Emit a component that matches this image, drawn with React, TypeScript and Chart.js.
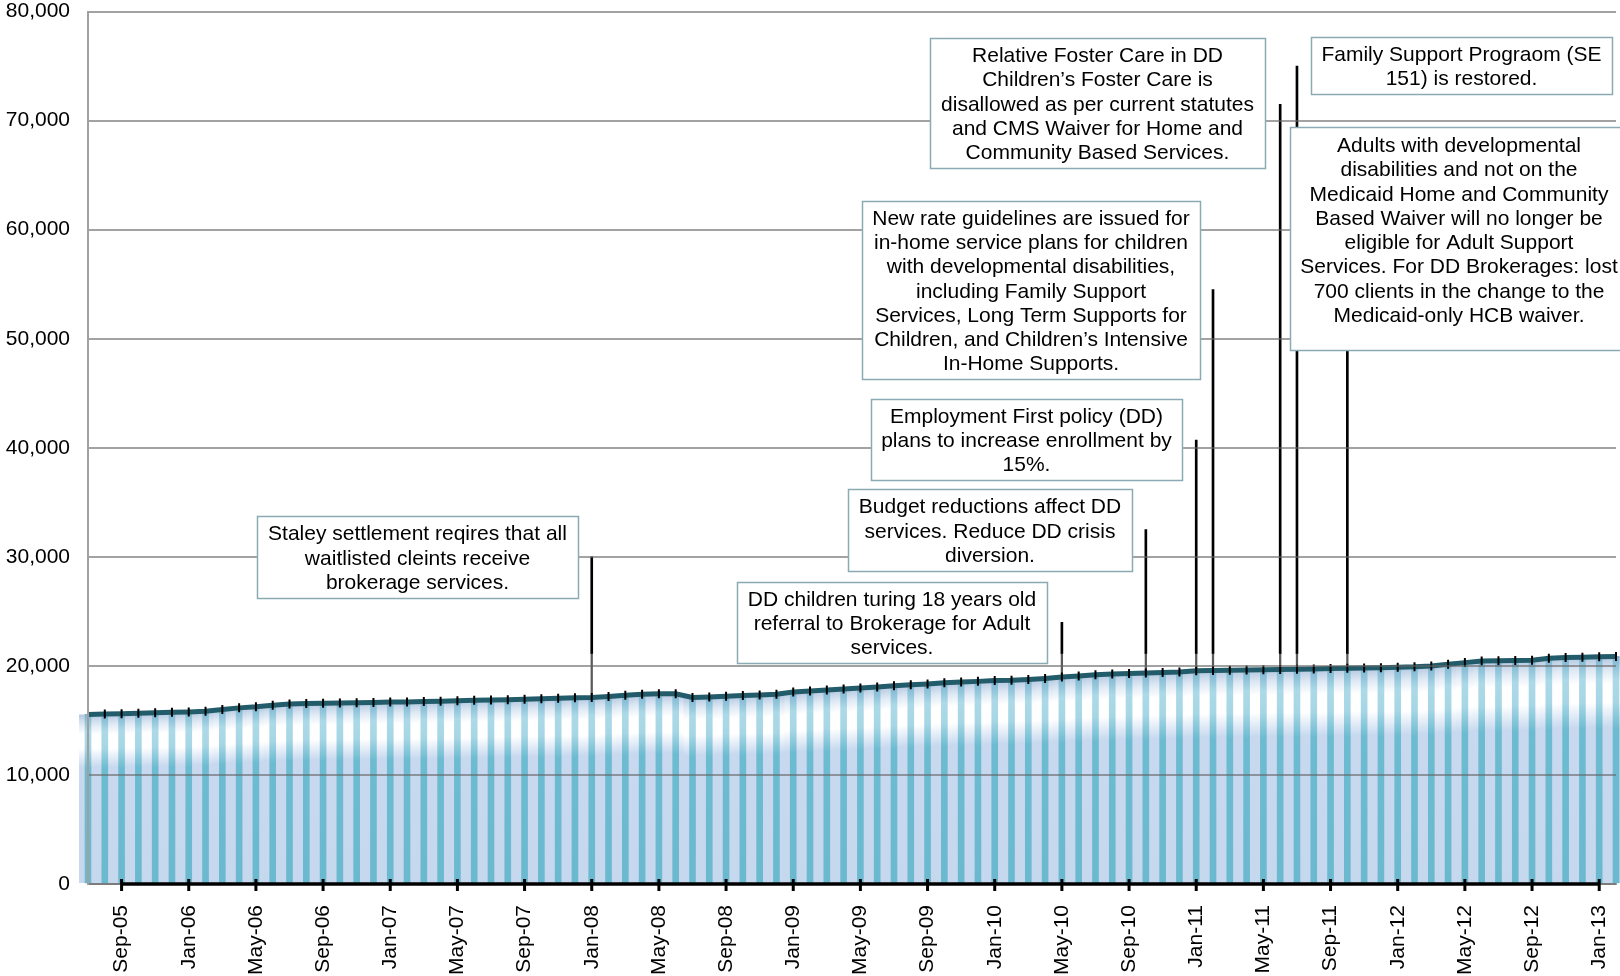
import { useEffect, useRef } from 'react';
import { Chart, registerables } from 'chart.js';

Chart.register(...registerables);

const categories = [
  'Jul-05', 'Aug-05', 'Sep-05', 'Oct-05', 'Nov-05', 'Dec-05',
  'Jan-06', 'Feb-06', 'Mar-06', 'Apr-06', 'May-06', 'Jun-06', 'Jul-06', 'Aug-06', 'Sep-06', 'Oct-06', 'Nov-06', 'Dec-06',
  'Jan-07', 'Feb-07', 'Mar-07', 'Apr-07', 'May-07', 'Jun-07', 'Jul-07', 'Aug-07', 'Sep-07', 'Oct-07', 'Nov-07', 'Dec-07',
  'Jan-08', 'Feb-08', 'Mar-08', 'Apr-08', 'May-08', 'Jun-08', 'Jul-08', 'Aug-08', 'Sep-08', 'Oct-08', 'Nov-08', 'Dec-08',
  'Jan-09', 'Feb-09', 'Mar-09', 'Apr-09', 'May-09', 'Jun-09', 'Jul-09', 'Aug-09', 'Sep-09', 'Oct-09', 'Nov-09', 'Dec-09',
  'Jan-10', 'Feb-10', 'Mar-10', 'Apr-10', 'May-10', 'Jun-10', 'Jul-10', 'Aug-10', 'Sep-10', 'Oct-10', 'Nov-10', 'Dec-10',
  'Jan-11', 'Feb-11', 'Mar-11', 'Apr-11', 'May-11', 'Jun-11', 'Jul-11', 'Aug-11', 'Sep-11', 'Oct-11', 'Nov-11', 'Dec-11',
  'Jan-12', 'Feb-12', 'Mar-12', 'Apr-12', 'May-12', 'Jun-12', 'Jul-12', 'Aug-12', 'Sep-12', 'Oct-12', 'Nov-12', 'Dec-12',
  'Jan-13', 'Feb-13',
];

const clients = [
  15550, 15580, 15620, 15660, 15700, 15740,
  15780, 15850, 16000, 16150, 16250, 16400, 16500, 16550, 16580, 16600, 16620, 16650,
  16680, 16700, 16730, 16760, 16800, 16840, 16870, 16900, 16950, 16990, 17030, 17070,
  17100, 17200, 17300, 17400, 17450, 17450, 17100, 17150, 17220, 17280, 17340, 17400,
  17600, 17700, 17780, 17870, 17970, 18070, 18170, 18270, 18350, 18450, 18520, 18580,
  18650, 18680, 18750, 18850, 18980, 19080, 19180, 19250, 19300, 19350, 19400, 19450,
  19550, 19580, 19600, 19630, 19650, 19680, 19700, 19720, 19750, 19780, 19810, 19840,
  19880, 19920, 20000, 20150, 20300, 20450, 20480, 20500, 20520, 20700, 20780, 20800,
  20830, 20870,
];

const yTickValues = [0, 10000, 20000, 30000, 40000, 50000, 60000, 70000, 80000];

// Events: month of the change and the value where its leader line ends
const eventMonths = ['Jan-08', 'May-10', 'Oct-10', 'Jan-11', 'Feb-11', 'Jun-11', 'Jul-11', 'Oct-11'];
const leaderTops = [30000, 24000, 32500, 40700, 54500, 71500, 75000, 52000];
const leaderSplit = 21150;

const noteTexts = [
  ['Staley settlement reqires that all', 'waitlisted cleints receive', 'brokerage services.'],
  ['DD children turing 18 years old', 'referral to Brokerage for Adult', 'services.'],
  ['Budget reductions affect DD', 'services. Reduce DD crisis', 'diversion.'],
  ['Employment First policy (DD)', 'plans to increase enrollment by', '15%.'],
  [
    'New rate guidelines are issued for',
    'in-home service plans for children',
    'with developmental disabilities,',
    'including Family Support',
    'Services, Long Term Supports for',
    'Children, and Children\u2019s Intensive',
    'In-Home Supports.',
  ],
  [
    'Relative Foster Care in DD',
    'Children\u2019s Foster Care is',
    'disallowed as per current statutes',
    'and CMS Waiver for Home and',
    'Community Based Services.',
  ],
  ['Family Support Prograom (SE', '151) is restored.'],
  [
    'Adults with developmental',
    'disabilities and not on the',
    'Medicaid Home and Community',
    'Based Waiver will no longer be',
    'eligible for Adult Support',
    'Services. For DD Brokerages: lost',
    '700 clients in the change to the',
    'Medicaid-only HCB waiver.',
  ],
];

// Layout of the callout boxes (pixels)
const noteBoxes = [
  { x: 257, y: 516, w: 321, h: 82, dy: 0 },
  { x: 737, y: 582, w: 310, h: 81, dy: 0 },
  { x: 848, y: 489, w: 284, h: 82, dy: 0 },
  { x: 871, y: 399, w: 311, h: 81, dy: 0 },
  { x: 862, y: 201, w: 338, h: 178, dy: 0 },
  { x: 930, y: 38, w: 335, h: 130, dy: 0 },
  { x: 1311, y: 37, w: 301, h: 57, dy: 0 },
  { x: 1290, y: 127, w: 338, h: 223, dy: -9 },
];

const FONT = '"Liberation Sans", Arial, sans-serif';
const FONT_SIZE = 21;
const LINE_H = 24.3;

function barGradient(ctx: any, stops: [number, string][], fallback: string) {
  const chart = ctx.chart;
  const y = chart.scales && chart.scales.y;
  if (!chart.chartArea || !y || ctx.type !== 'data' || ctx.raw == null) return fallback;
  const top = y.getPixelForValue(ctx.raw);
  const bottom = y.getPixelForValue(0);
  if (!isFinite(top) || !isFinite(bottom) || bottom - top < 1) return fallback;
  const g = chart.ctx.createLinearGradient(0, top, 0, bottom);
  stops.forEach(([o, c]) => g.addColorStop(o, c));
  return g;
}

const wideStops: [number, string][] = [
  [0, '#b2c7e0'],
  [0.06, '#dfe9f4'],
  [0.12, '#ffffff'],
  [0.2, '#ffffff'],
  [0.31, '#c8d9ef'],
  [1, '#c6d8ee'],
];
const tealStops: [number, string][] = [
  [0, '#7ab3cf'],
  [0.1, '#acd9e7'],
  [0.2, '#a6d6e5'],
  [0.32, '#6dbbd0'],
  [1, '#6ab9cf'],
];

const decorPlugin = {
  id: 'decor',
  afterDraw(chart: any) {
    const { ctx, scales } = chart;
    const x = scales.x;
    const y = scales.y;
    const base = y.getPixelForValue(0);
    const labeled = categories.map((_, i) => i).filter((i) => i % 4 === 2);
    ctx.save();
    // black axis segment between first and last labelled ticks
    ctx.strokeStyle = '#000';
    ctx.lineWidth = 3.5;
    ctx.beginPath();
    ctx.moveTo(x.getPixelForValue(labeled[0]), base);
    ctx.lineTo(x.getPixelForValue(labeled[labeled.length - 1]), base);
    ctx.stroke();
    ctx.lineWidth = 3;
    labeled.forEach((i) => {
      const px = x.getPixelForValue(i);
      ctx.beginPath();
      ctx.moveTo(px, base - 5);
      ctx.lineTo(px, base + 7);
      ctx.stroke();
    });
    // callout boxes
    ctx.font = `${FONT_SIZE}px ${FONT}`;
    ctx.textAlign = 'center';
    ctx.textBaseline = 'alphabetic';
    noteBoxes.forEach((b, k) => {
      ctx.fillStyle = '#ffffff';
      ctx.fillRect(b.x, b.y, b.w, b.h);
      ctx.strokeStyle = '#8aabb3';
      ctx.lineWidth = 1.5;
      ctx.strokeRect(b.x + 0.5, b.y + 0.5, b.w, b.h);
      const lines = noteTexts[k];
      const cx = b.x + b.w / 2;
      const cy = b.y + b.h / 2 + b.dy;
      ctx.fillStyle = '#000';
      lines.forEach((t, i) => {
        ctx.fillText(t, cx, cy + (i - (lines.length - 1) / 2) * LINE_H + 7.5);
      });
    });
    ctx.restore();
  },
};

export default function App() {
  const ref = useRef<HTMLCanvasElement | null>(null);

  useEffect(() => {
    if (!ref.current) return;
    const eventIdx = eventMonths.map((m) => categories.indexOf(m));
    const leaderLow = categories.map((_, i) => {
      const k = eventIdx.indexOf(i);
      return k >= 0 ? [clients[i], leaderSplit] : null;
    });
    const leaderHigh = categories.map((_, i) => {
      const k = eventIdx.indexOf(i);
      return k >= 0 ? [leaderSplit, leaderTops[k]] : null;
    });

    const chart = new Chart(ref.current, {
      type: 'bar',
      data: {
        labels: categories,
        datasets: [
          {
            type: 'line',
            data: clients,
            borderColor: '#225b69',
            borderWidth: 5,
            tension: 0,
            pointStyle: 'line',
            rotation: 90,
            pointRadius: 4.5,
            pointBorderColor: '#000',
            pointBorderWidth: 2,
            pointBackgroundColor: '#000',
            order: 0,
          } as any,
          {
            type: 'bar',
            data: leaderHigh as any,
            backgroundColor: '#000',
            barThickness: 2,
            grouped: false,
            order: 1,
          },
          {
            type: 'bar',
            data: leaderLow as any,
            backgroundColor: '#5a5a5a',
            barThickness: 1.6,
            grouped: false,
            order: 1,
          },
          {
            type: 'bar',
            data: clients,
            backgroundColor: (c: any) => barGradient(c, tealStops, '#6ab9cf'),
            barThickness: 6,
            grouped: false,
            clip: false as any,
            order: 2,
          },
          {
            type: 'bar',
            data: clients,
            backgroundColor: (c: any) => barGradient(c, wideStops, '#c6d8ee'),
            barPercentage: 1.07,
            categoryPercentage: 1,
            grouped: false,
            clip: false as any,
            order: 3,
          },
        ],
      },
      options: {
        animation: false,
        responsive: false,
        devicePixelRatio: 1,
        layout: { autoPadding: false, padding: { top: 0, right: 4, left: 0, bottom: 0 } },
        plugins: {
          legend: { display: false },
          tooltip: { enabled: false },
        },
        scales: {
          x: {
            type: 'category',
            offset: false,
            grid: {
              display: true,
              drawOnChartArea: false,
              drawTicks: true,
              tickLength: 21,
              tickColor: 'rgba(0,0,0,0)',
              color: 'rgba(0,0,0,0)',
            },
            border: { display: true, color: '#a0a0a0', width: 2 },
            ticks: {
              autoSkip: false,
              minRotation: 90,
              maxRotation: 90,
              padding: 0,
              color: '#000',
              font: { family: FONT, size: FONT_SIZE },
              callback: (_v: any, i: number) => (i % 4 === 2 ? categories[i] : null),
            },
            afterFit: (s: any) => {
              s.height = 92;
              s.paddingLeft = 0;
              s.paddingRight = 0;
            },
          },
          y: {
            min: 0,
            max: 80000,
            afterBuildTicks: (s: any) => {
              s.ticks = yTickValues.map((v) => ({ value: v }));
            },
            grid: {
              color: 'rgba(100,100,100,0.6)',
              lineWidth: 2,
              drawTicks: true,
              tickLength: 18,
              tickColor: 'rgba(0,0,0,0)',
              z: 1,
            },
            border: { display: true, color: '#a0a0a0', width: 2, z: 1 },
            ticks: {
              padding: 0,
              color: '#000',
              font: { family: FONT, size: FONT_SIZE, lineHeight: 1.1 },
              callback: (v: any) => Number(v).toLocaleString('en-US'),
            },
            afterFit: (s: any) => {
              s.width = 88;
            },
          },
        },
      },
      plugins: [decorPlugin],
    });
    return () => chart.destroy();
  }, []);

  return (
    <div style={{ position: 'absolute', left: 0, top: 0, width: 1620, height: 976, background: '#fff' }}>
      <canvas ref={ref} width={1620} height={976} style={{ width: 1620, height: 976, display: 'block' }} />
    </div>
  );
}
